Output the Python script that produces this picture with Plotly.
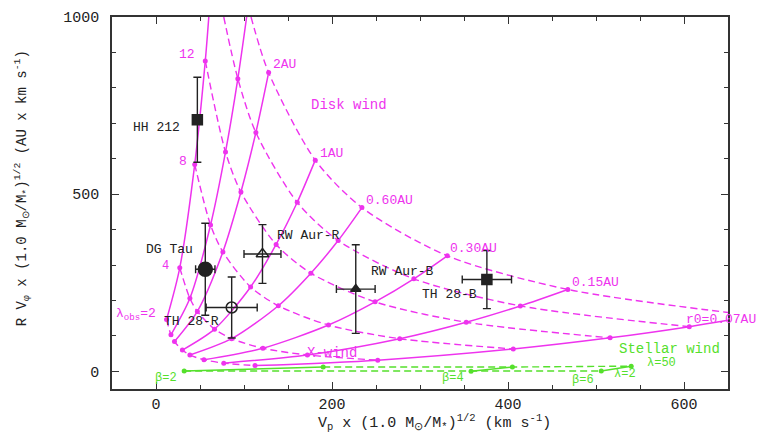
import plotly.graph_objects as go

MAG = "#ee33ee"
GRN = "#55e02c"
INK = "#222222"
FONT = "Liberation Mono"

# ---- Disk-wind grid -------------------------------------------------------
# Columns: magnetic lever arm lambda; rows: launching radius r0.
lam_values = [2, 4, 8, 12, 16, 20]
r0_names = ["6AU", "3AU", "2AU", "1AU", "0.60AU", "0.30AU", "0.15AU", "0.07AU"]

# poloidal speed Vp (km/s); None = outside the plotted window
vp_grid = [
    [12, 27, 44, 56, None, None],
    [17, 38.5, 62, 79, 93, None],
    [21, 47, 76, 96.5, 113.5, 128],
    [30, 66.5, 107.5, 136.5, 160.5, 181],
    [38.5, 86, 139, 176, 207, 234],
    [54.5, 121.5, 196, 249, 293, 331],
    [77, 172, 277, 352.5, 414, 468],
    [112.5, 252, 406, 516, 606, None],
]
# specific angular momentum R*Vphi (AU km/s)
j_grid = [
    [146, 292, 584, 876, None, None],
    [103, 206, 413, 619, 826, None],
    [84, 169, 337, 506, 674, 843],
    [60, 119, 238, 358, 477, 596],
    [46, 92, 185, 277, 369, 462],
    [32.5, 65, 130.5, 196, 261, 326],
    [23, 46, 92, 138.5, 184.5, 231],
    [16, 31.5, 63, 94.5, 126, None],
]

# where curves leave the window (top edge j=1000, right edge Vp=650)
r0_exit = {"6AU": (60, 1000), "3AU": (103, 1000), "0.07AU": (650, 144)}
lam_entry = {16: (77, 1000), 20: (108, 1000)}
lam_exit = {20: (650, 166)}

# ---- Stellar-wind models --------------------------------------------------
beta_values = [2, 4, 6]
sw_vp_lam2 = [32, 358, 506]
sw_j_lam2 = [1, 0, 1]
sw_vp_lam50 = [190, 405, 540]
sw_j_lam50 = [12, 12, 14.5]

# ---- Observed jets --------------------------------------------------------
obj_names = ["HH 212", "DG Tau", "TH 28-R", "RW Aur-R", "RW Aur-B", "TH 28-B"]
obj_vp = [47, 56, 86, 121, 227, 376]
obj_vp_err = [0, 11, 29, 21, 22, 28]
obj_j = [710, 288, 180, 331, 232, 259]
obj_j_err = [120, 130, 86, 83, 125, 82]
obj_symbol = ["square", "circle", "circle-open", "triangle-up-open",
              "triangle-up", "square"]
obj_size = [10, 14, 11, 11, 9, 10]

fig = go.Figure()

# constant-lambda curves (dashed)
for k, lam in enumerate(lam_values):
    xs, ys = [], []
    if lam in lam_entry:
        xs.append(lam_entry[lam][0]); ys.append(lam_entry[lam][1])
    for i in range(len(r0_names)):
        if vp_grid[i][k] is not None:
            xs.append(vp_grid[i][k]); ys.append(j_grid[i][k])
    if lam in lam_exit:
        xs.append(lam_exit[lam][0]); ys.append(lam_exit[lam][1])
    fig.add_trace(go.Scatter(x=xs, y=ys, mode="lines",
                             line=dict(color=MAG, width=1.4, dash="7px,4px",
                                       shape="spline", smoothing=0.8),
                             hoverinfo="skip", showlegend=False))

# constant-r0 curves (solid) with grid dots
for i, name in enumerate(r0_names):
    xs = [v for v in vp_grid[i] if v is not None]
    ys = [v for v in j_grid[i] if v is not None]
    lx, ly = list(xs), list(ys)
    if name in r0_exit:
        lx.append(r0_exit[name][0]); ly.append(r0_exit[name][1])
    fig.add_trace(go.Scatter(x=lx, y=ly, mode="lines",
                             line=dict(color=MAG, width=1.5, shape="spline",
                                       smoothing=0.8),
                             hoverinfo="skip", showlegend=False))
    fig.add_trace(go.Scatter(x=xs, y=ys, mode="markers",
                             marker=dict(color=MAG, size=5),
                             hoverinfo="skip", showlegend=False))

# stellar winds: solid for each beta, dashed joining equal lambda
fig.add_trace(go.Scatter(x=sw_vp_lam2, y=sw_j_lam2, mode="lines",
                         line=dict(color=GRN, width=1.4, dash="7px,4px"),
                         showlegend=False, hoverinfo="skip"))
fig.add_trace(go.Scatter(x=sw_vp_lam50, y=sw_j_lam50, mode="lines",
                         line=dict(color=GRN, width=1.4, dash="7px,4px"),
                         showlegend=False, hoverinfo="skip"))
for b in range(len(beta_values)):
    fig.add_trace(go.Scatter(x=[sw_vp_lam2[b], sw_vp_lam50[b]],
                             y=[sw_j_lam2[b], sw_j_lam50[b]],
                             mode="lines+markers",
                             line=dict(color=GRN, width=1.5),
                             marker=dict(color=GRN, size=5),
                             showlegend=False, hoverinfo="skip"))

# observed jets with error bars
for n in range(len(obj_names)):
    fig.add_trace(go.Scatter(
        x=[obj_vp[n]], y=[obj_j[n]], mode="markers",
        marker=dict(symbol=obj_symbol[n], size=obj_size[n], color=INK,
                    line=dict(color=INK, width=1.5)),
        error_x=dict(type="data", array=[obj_vp_err[n]], color=INK,
                     thickness=1.4, width=4, visible=obj_vp_err[n] > 0),
        error_y=dict(type="data", array=[obj_j_err[n]], color=INK,
                     thickness=1.4, width=4),
        showlegend=False, hoverinfo="skip"))

ann = []


def label(text, x, y, color, size=13, **kw):
    ann.append(dict(text=text, x=x, y=y, xref="x", yref="y", showarrow=False,
                    font=dict(family=FONT, size=size, color=color), **kw))


# object names
obj_label_pos = [(1, 688), (15, 343), (40, 140), (173, 383), (280, 283), (333, 216)]
for n, (lx, ly) in enumerate(obj_label_pos):
    label(obj_names[n], lx, ly, INK, size=13)

# lambda labels along the outermost radius
label("12", 35, 893, MAG)
label("8", 31, 593, MAG)
label("4", 11, 296, MAG, size=12)
label("λ<sub>obs</sub>=2", -23, 161, MAG)

# r0 labels at the ends of the solid curves
r0_label_pos = {"2AU": (146, 865), "1AU": (199, 615), "0.60AU": (265, 482),
                "0.30AU": (361, 347), "0.15AU": (499, 252)}
for name, (lx, ly) in r0_label_pos.items():
    label(name, lx, ly, MAG)
label("r0=0.07AU", 642, 147, MAG)
label("Disk wind", 219, 751, MAG, size=14)
label("X-wind", 200, 53, MAG, size=14)

label("Stellar wind", 584, 63, GRN, size=14)
label("λ=50", 574, 22, GRN, size=12)
label("λ=2", 533, -9, GRN, size=12)
for b, (lx, ly) in zip(beta_values, [(11, -19), (338, -19), (485, -25)]):
    label(f"β={b}", lx, ly, GRN, size=12)

# axis titles
ann.append(dict(text="V<sub>p</sub> x (1.0 M<sub>⊙</sub>/M<sub>*</sub>)<sup>1/2</sup> (km s<sup>-1</sup>)",
                x=0.524, y=-0.09, xref="paper", yref="paper", showarrow=False,
                yanchor="middle", font=dict(family=FONT, size=15, color=INK)))
ann.append(dict(text="R V<sub>φ</sub> x (1.0 M<sub>⊙</sub>/M<sub>*</sub>)<sup>1/2</sup> (AU x km s<sup>-1</sup>)",
                x=-0.146, y=0.54, xref="paper", yref="paper", showarrow=False,
                textangle=-90, xanchor="center", yanchor="middle",
                font=dict(family=FONT, size=14, color=INK)))

axis_common = dict(showgrid=False, zeroline=False, showline=True, mirror="ticks",
                   linecolor="#333333", linewidth=1.5, ticks="inside",
                   ticklen=7, tickwidth=1.2, tickcolor="#333333",
                   tickfont=dict(family=FONT, size=15, color=INK))

fig.update_layout(
    width=758, height=438,
    margin=dict(l=112, r=30, t=10, b=49),
    paper_bgcolor="white", plot_bgcolor="white",
    annotations=ann,
    xaxis=dict(range=[-50, 650], tickvals=[0, 200, 400, 600],
               minor=dict(dtick=50, tick0=0, ticklen=4, ticks="inside",
                          tickcolor="#333333"),
               **axis_common),
    yaxis=dict(range=[-50, 1000], tickvals=[0, 500, 1000],
               ticklabelstandoff=8,
               minor=dict(dtick=100, tick0=0, ticklen=4, ticks="inside",
                          tickcolor="#333333"),
               **axis_common),
)

fig.write_html("out.html")
